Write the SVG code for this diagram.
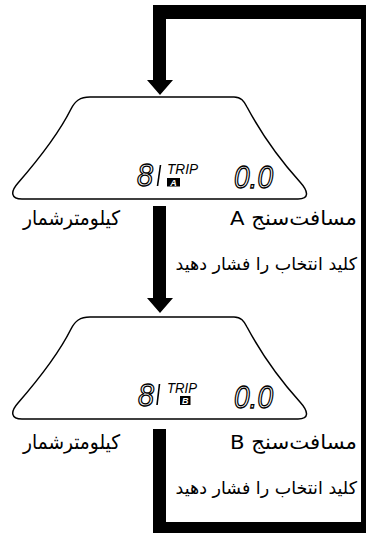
<svg xmlns="http://www.w3.org/2000/svg" xmlns:xlink="http://www.w3.org/1999/xlink" width="366" height="533" viewBox="0 0 366 533">
<style>
.lcd{fill:#fff;stroke:#000;stroke-width:1.5}
.seg{font-family:"Liberation Sans",sans-serif;font-style:italic;font-size:31px;fill:none;stroke:#000;stroke-width:1.3}
.trip{font-family:"Liberation Sans",sans-serif;font-style:italic;font-size:14px;fill:#000}
.tag{font-family:"Liberation Sans",sans-serif;font-style:italic;font-weight:bold;font-size:9px;fill:#fff}
.lbl{font-family:"DejaVu Sans",sans-serif;font-size:20px;fill:#000}
.mid{font-family:"DejaVu Sans",sans-serif;font-size:17.5px;fill:#000}
.bar{stroke:#000;stroke-width:1.6}
.conn{fill:#000}
</style>
<defs>
<path id="lcdshape" d="M 90,97 L 234,97 C 241,97 244,101 247,107 C 262,135 282,162 300,182 C 309,192 309,199 298,199 L 22,199 C 11,199 10,192 18,183 C 38,160 58,135 71,109 C 75,101 80,97 90,97 Z"/>
</defs>
<rect width="366" height="533" fill="#fff"/>
<g id="connectors">
<path class="conn" d="M153,429 L166,429 L166,522 L361,522 L361,19 L166,19 L166,80 L173,80 L160,95 L147,80 L153,80 L153,5 L366,5 L366,533 L153,533 Z"/>
<path class="conn" d="M153,206 L166,206 L166,298 L173,298 L160,313 L147,298 L153,298 Z"/>
</g>
<g id="display-a">
<use xlink:href="#lcdshape" class="lcd"/>
<text class="seg" x="137" y="186" textLength="16" lengthAdjust="spacingAndGlyphs">8</text>
<line class="bar" x1="160.5" y1="165" x2="157.5" y2="186"/>
<text class="trip" x="167" y="174" textLength="31" lengthAdjust="spacingAndGlyphs">TRIP</text>
<rect x="167" y="178" width="13" height="8.5" fill="#000"/>
<text class="tag" x="173.5" y="185.5" text-anchor="middle">A</text>
<text class="seg" x="234" y="188" textLength="39" lengthAdjust="spacingAndGlyphs">0.0</text>
</g>
<g id="label-odometer-a">
<text class="lbl" x="120" y="225" direction="rtl" text-anchor="start" textLength="97" lengthAdjust="spacingAndGlyphs">کیلومترشمار</text>
</g>
<g id="label-trip-a">
<text class="lbl" x="357" y="225" direction="rtl" text-anchor="start" textLength="127" lengthAdjust="spacingAndGlyphs">مسافت‌سنج A</text>
</g>
<g id="label-press-1">
<text class="mid" x="357" y="270" direction="rtl" text-anchor="start">کلید انتخاب را فشار دهید</text>
</g>
<g id="display-b">
<use xlink:href="#lcdshape" class="lcd" transform="translate(0,220)"/>
<text class="seg" x="138" y="406" textLength="16" lengthAdjust="spacingAndGlyphs">8</text>
<line class="bar" x1="159.5" y1="384" x2="157" y2="405"/>
<text class="trip" x="167" y="393" textLength="30" lengthAdjust="spacingAndGlyphs">TRIP</text>
<rect x="180" y="396" width="10.5" height="9" fill="#000"/>
<text class="tag" x="185.3" y="404" text-anchor="middle">B</text>
<text class="seg" x="234" y="408" textLength="39" lengthAdjust="spacingAndGlyphs">0.0</text>
</g>
<g id="label-odometer-b">
<text class="lbl" x="120" y="449" direction="rtl" text-anchor="start" textLength="97" lengthAdjust="spacingAndGlyphs">کیلومترشمار</text>
</g>
<g id="label-trip-b">
<text class="lbl" x="357" y="449" direction="rtl" text-anchor="start" textLength="127" lengthAdjust="spacingAndGlyphs">مسافت‌سنج B</text>
</g>
<g id="label-press-2">
<text class="mid" x="357" y="494" direction="rtl" text-anchor="start">کلید انتخاب را فشار دهید</text>
</g>
</svg>
